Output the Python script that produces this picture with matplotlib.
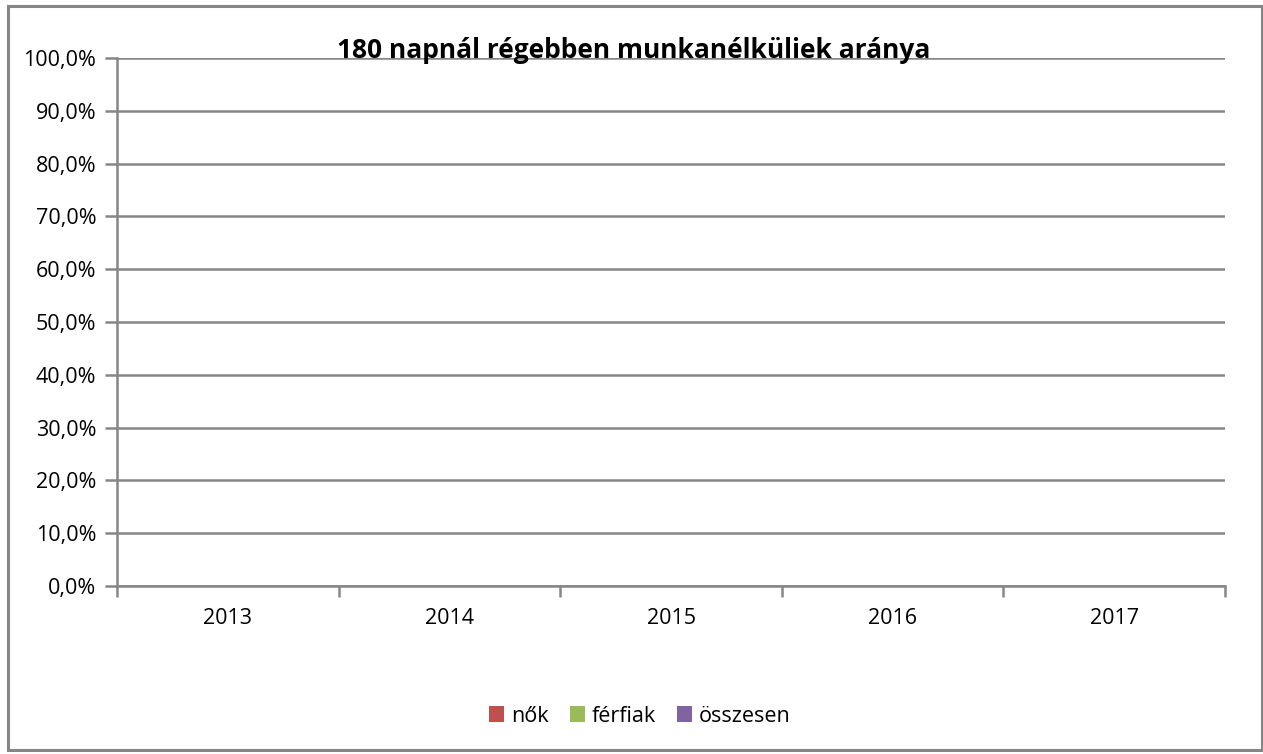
import matplotlib
matplotlib.use("Agg")
import matplotlib.pyplot as plt
import numpy as np
from matplotlib.patches import Patch, Rectangle

years = ["2013", "2014", "2015", "2016", "2017"]
nok = [0, 0, 0, 0, 0]
ferfiak = [0, 0, 0, 0, 0]
osszesen = [0, 0, 0, 0, 0]
series_names = ["nők", "férfiak", "összesen"]
colors = ["#C0504D", "#9BBB59", "#8064A2"]
yticks = [0, 0.1, 0.2, 0.3, 0.4, 0.5, 0.6, 0.7, 0.8, 0.9, 1.0]

plt.rcParams['font.family'] = ['Open Sans', 'DejaVu Sans']
W, H = 1263, 754
fig = plt.figure(figsize=(W/100, H/100), dpi=100)
ax = fig.add_axes([117/W, 1-586/H, (1225-117)/W, (586-58)/H])

x = np.arange(len(years))
w = 0.25
for i, (vals, name, c) in enumerate(zip([nok, ferfiak, osszesen], series_names, colors)):
    ax.bar(x + (i-1)*w, vals, w, color=c, linewidth=0, label=name)

ax.set_xlim(-0.5, len(years)-0.5)
ax.set_ylim(0, 1.0)
ax.set_yticks(yticks)
ax.set_yticklabels([f"{v*100:.1f}%".replace(".", ",") for v in yticks], fontsize=15.5)
ax.yaxis.grid(True, color="#868686", linewidth=1.8)
ax.set_axisbelow(True)
ax.set_xticks(x)
ax.set_xticklabels(years, fontsize=15.5)
ax.tick_params(axis='x', length=0, pad=16)
ax.tick_params(axis='y', length=9, width=1.8, color="#868686", pad=6)
ax.set_xticks(np.arange(-0.5, len(years)), minor=True)
ax.tick_params(axis='x', which='minor', length=8, width=1.8, color="#868686")
for s in ['top', 'right']:
    ax.spines[s].set_visible(False)
for s in ['left', 'bottom']:
    ax.spines[s].set_color("#868686")
    ax.spines[s].set_linewidth(1.8)

fig.text(634/W, 1-50/H, "180 napnál régebben munkanélküliek aránya",
         ha='center', va='center', fontsize=19, fontweight='bold')

handles = [Patch(facecolor=c, edgecolor='none', label=n) for c, n in zip(colors, series_names)]
fig.legend(handles=handles, loc='center', bbox_to_anchor=(640/W, 1-716/H), ncol=3,
           frameon=False, fontsize=15.5, handlelength=0.7, handleheight=0.7,
           handletextpad=0.3, columnspacing=1.0)

fig.add_artist(Rectangle((8/W, 4/H), (1262-8)/W, (748-4)/H, transform=fig.transFigure,
                         fill=False, edgecolor="#868686", linewidth=2.2))

fig.savefig("out.png", dpi=100)
